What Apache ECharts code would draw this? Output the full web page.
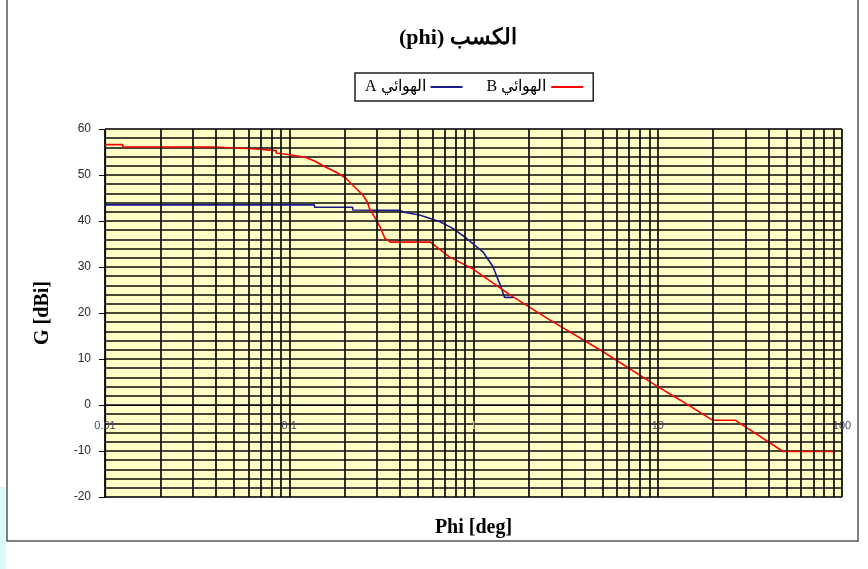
<!DOCTYPE html>
<html>
<head>
<meta charset="utf-8">
<script src="https://cdn.jsdelivr.net/npm/echarts@6/dist/echarts.min.js"></script>
<style>html,body{margin:0;padding:0;background:#fff}#c{width:868px;height:569px}</style>
</head>
<body>
<div id="c"></div>
<script>
// ---- data ----
const titleText = 'الكسب (phi)';
const nameA = 'الهوائي A';
const nameB = 'الهوائي B';
const xName = 'Phi [deg]';
const yName = 'G [dBi]';
const xTickLabels = ['0.01', '0.1', '1', '10', '100'];
const yTicks = [-20, -10, 0, 10, 20, 30, 40, 50, 60];

// Antenna A (blue)
const aPhi  = [0.01, 0.137, 0.137, 0.221, 0.221, 0.40, 0.42, 0.509, 0.577, 0.653, 0.772, 0.912, 1.124, 1.274, 1.384, 1.473, 1.64];
const aGain = [43.5, 43.5, 43.0, 43.0, 42.4, 42.3, 41.9, 41.3, 40.6, 39.9, 38.4, 36.3, 33.3, 30.1, 26.5, 23.4, 23.4];

// Antenna B (red)
const bPhi  = [0.01, 0.0125, 0.0125, 0.039, 0.039, 0.063, 0.063, 0.085, 0.085, 0.105, 0.123, 0.138, 0.158, 0.18, 0.203, 0.225, 0.25, 0.265, 0.272, 0.29, 0.31, 0.33, 0.354, 0.583, 0.74, 1.0, 1.57, 2.59, 4.9, 10, 13.2, 19.8, 26.3, 47.9, 92];
const bGain = [56.6, 56.6, 56.1, 56.1, 55.7, 55.7, 55.3, 55.3, 54.8, 54.3, 53.8, 53.0, 51.7, 50.6, 49.3, 47.5, 45.7, 44.2, 42.8, 40.9, 38.8, 36.3, 35.4, 35.4, 32.2, 29.5, 24.0, 18.5, 11.9, 4.0, 1.1, -3.3, -3.3, -10.1, -10.1];

// log-axis minor grid positions (2..9 in each decade)
const decades = [0.01, 0.1, 1, 10];
const minorX = [];
decades.forEach(d => { for (let k = 2; k <= 9; k++) minorX.push(+(d * k).toPrecision(3)); });

const RLE = '\u202B', PDF = '\u202C';
const rtl = s => RLE + s + PDF;

const zip = (xs, ys) => xs.map((x, i) => [x, ys[i]]);
const gridColor = '#0a0a0a';
const gridW = 1.7;

// layout of the plot area
const gridTop = 129, gridBottom = 72;
const plotH = 569 - gridTop - gridBottom;
const yMin = yTicks[0], yMax = yTicks[yTicks.length - 1];
// x axis sits on the y = 0 line
const xAxisOffset = -plotH * (0 - yMin) / (yMax - yMin);

const chart = echarts.init(document.getElementById('c'), null, {renderer: 'canvas'});
chart.setOption({
  animation: false,
  backgroundColor: '#fff',
  title: {
    text: rtl(titleText),
    left: 394, top: 22,
    textStyle: {fontFamily: '"Liberation Serif", "DejaVu Serif", serif', fontWeight: 'bold', fontSize: 22, color: '#000'}
  },
  legend: {
    data: [rtl(nameA), rtl(nameB)],
    left: 355, top: 73,
    align: 'right',
    icon: 'rect',
    itemWidth: 32, itemHeight: 2, itemGap: 24,
    padding: [6, 10, 6, 10],
    borderColor: '#222', borderWidth: 1.5,
    backgroundColor: '#fff',
    textStyle: {fontFamily: '"Liberation Serif", "DejaVu Serif", serif', fontSize: 16, color: '#000'}
  },
  grid: {
    left: 105, top: gridTop, right: 26, bottom: gridBottom,
    outerBoundsMode: 'none', containLabel: false,
    show: true, backgroundColor: '#FFFFC6', borderColor: '#8a8a8a', borderWidth: 1
  },
  xAxis: {
    type: 'log', logBase: 10, min: 0.01, max: 100,
    position: 'bottom', offset: xAxisOffset,
    name: xName, nameLocation: 'middle', nameGap: 113,
    nameTextStyle: {fontFamily: '"Liberation Serif", "DejaVu Serif", serif', fontWeight: 'bold', fontSize: 20, color: '#000'},
    axisLine: {onZero: false, lineStyle: {color: '#000', width: 1}},
    axisTick: {show: false},
    axisLabel: {
      margin: 15, fontFamily: '"Liberation Sans", Arial, sans-serif', fontSize: 11, color: '#4a4a66',
      formatter: function (v) {
        const idx = Math.round(Math.log10(v)) + 2;
        const t = xTickLabels[idx] !== undefined ? xTickLabels[idx] : String(v);
        return t === '1' ? '{pale|' + t + '}' : t;
      },
      rich: {pale: {color: '#e6e08a', fontSize: 11, fontFamily: '"Liberation Sans", Arial, sans-serif'}}
    },
    splitLine: {show: true, lineStyle: {color: gridColor, width: gridW}}
  },
  yAxis: {
    type: 'value', min: yMin, max: yMax, interval: 10,
    name: yName, nameLocation: 'middle', nameGap: 52, nameRotate: 90,
    nameTextStyle: {fontFamily: '"Liberation Serif", "DejaVu Serif", serif', fontWeight: 'bold', fontSize: 20, color: '#000'},
    axisLine: {show: true, onZero: false, lineStyle: {color: '#000', width: 1.2}},
    axisTick: {show: true, length: 6, lineStyle: {color: '#000'}},
    axisLabel: {margin: 14, fontFamily: '"Liberation Sans", Arial, sans-serif', fontSize: 12, color: '#2a2a2a'},
    splitLine: {show: true, lineStyle: {color: gridColor, width: gridW}},
    minorTick: {show: false, splitNumber: 5},
    minorSplitLine: {show: true, lineStyle: {color: gridColor, width: gridW}}
  },
  series: [
    {
      name: '__grid', type: 'line', data: [], z: 1, silent: true,
      markLine: {
        silent: true, symbol: ['none', 'none'], animation: false,
        label: {show: false},
        lineStyle: {type: 'solid', color: gridColor, width: gridW},
        data: minorX.map(v => ({xAxis: v}))
      }
    },
    {
      name: rtl(nameA), type: 'line', data: zip(aPhi, aGain), z: 3,
      symbol: 'none', lineStyle: {color: '#1a1a8c', width: 1.6}, itemStyle: {color: '#1a1a8c'}
    },
    {
      name: rtl(nameB), type: 'line', data: zip(bPhi, bGain), z: 4,
      symbol: 'none', lineStyle: {color: '#ff0000', width: 1.6}, itemStyle: {color: '#ff0000'}
    }
  ],
  graphic: [
    {type: 'rect', shape: {x: 7, y: -2, width: 851, height: 543}, style: {fill: 'none', stroke: '#555', lineWidth: 1.5}, silent: true, z: 100},
    {type: 'rect', shape: {x: 0, y: 487, width: 6, height: 82}, style: {fill: '#dcf8fc'}, silent: true, z: 100}
  ]
});
</script>
</body>
</html>
